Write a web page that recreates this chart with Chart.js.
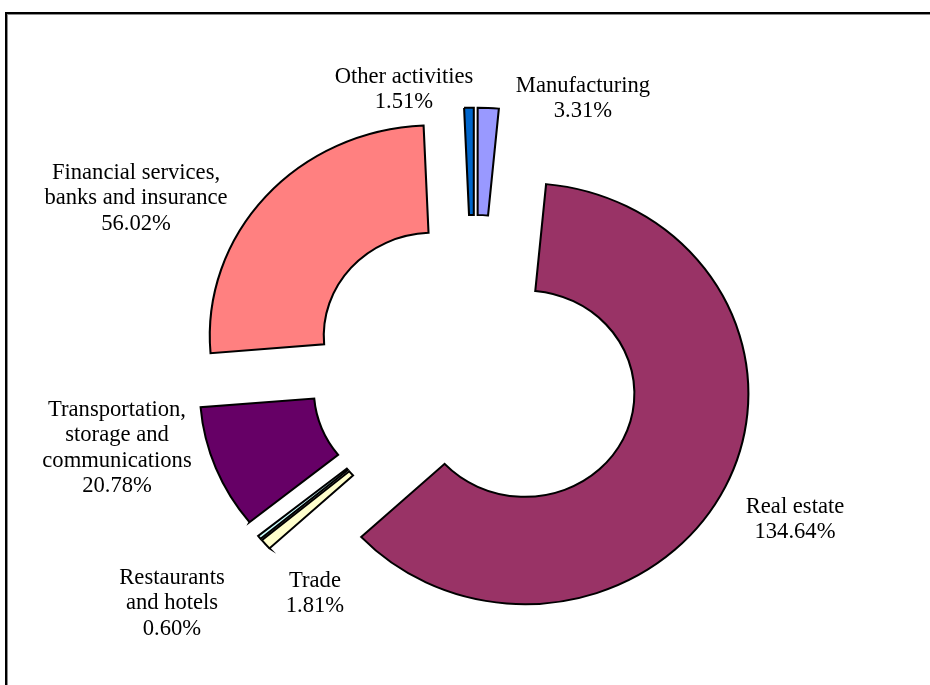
<!DOCTYPE html>
<html>
<head>
<meta charset="utf-8">
<script src="https://cdn.jsdelivr.net/npm/chart.js@4"></script>
<style>
    html, body { margin: 0; padding: 0; background: #fff; }
    #wrap { position: relative; width: 930px; height: 685px; overflow: hidden; }
    #frame {
        position: absolute; left: 5px; top: 12px; width: 1000px; height: 800px;
        border-left: 2px solid #000; border-top: 2px solid #000;
        box-shadow: inset 1px 1px 0 #8c8c8c;
    }
    #chart { position: absolute; left: 0; top: 0; }
</style>
</head>
<body>
<div id="wrap">
    <div id="frame"></div>
    <canvas id="chart" width="930" height="685"></canvas>
</div>
<script>
// Sectores, en el sentido de las agujas del reloj desde las 12
const sectors = ['Manufacturing', 'Real estate', 'Trade', 'Restaurants and hotels',
    'Transportation, storage and communications', 'Financial services, banks and insurance', 'Other activities'];
const shares = [3.31, 134.64, 1.81, 0.60, 20.78, 56.02, 1.51];
// Texto de cada etiqueta, ya partido en líneas (el porcentaje se añade al final)
const labelLines = [
    ['Manufacturing'],
    ['Real estate'],
    ['Trade'],
    ['Restaurants', 'and hotels'],
    ['Transportation,', 'storage and', 'communications'],
    ['Financial services,', 'banks and insurance'],
    ['Other activities']
];
const sectorColors = ['#9999FF', '#993366', '#FFFFCC', '#CCFFFF', '#660066', '#FF8080', '#0066CC'];

// Separación de cada porción respecto al centro (px)
const EXPLODE = 54;
// El anillo sale algo más ancho que alto
const STRETCH_X = 1.03;
const STRETCH_Y = 0.97;
// Ancla de cada etiqueta: centro x y línea base de la primera línea
const labelAnchors = [
    [583, 92], [795, 513], [315, 587], [172, 584], [117, 416], [136, 179], [404, 83]
];
const LINE_STEP = 25.3;

// Desplaza cada porción hacia fuera según su ángulo medio
const explodePlugin = {
    id: 'explode',
    afterDatasetsUpdate(chart) {
        chart.getDatasetMeta(0).data.forEach(arc => {
            const mid = (arc.startAngle + arc.endAngle) / 2;
            arc.x += Math.cos(mid) * EXPLODE;
            arc.y += Math.sin(mid) * EXPLODE;
        });
    },
    beforeDatasetsDraw(chart) {
        const { left, right, top, bottom } = chart.chartArea;
        const cx = (left + right) / 2, cy = (top + bottom) / 2;
        const ctx = chart.ctx;
        ctx.save();
        ctx.translate(cx, cy);
        ctx.scale(STRETCH_X, STRETCH_Y);
        ctx.translate(-cx, -cy);
    },
    afterDatasetsDraw(chart) {
        chart.ctx.restore();
    }
};

const labelPlugin = {
    id: 'sectorLabels',
    afterDatasetsDraw(chart) {
        const ctx = chart.ctx;
        ctx.save();
        ctx.font = '22.6px "Liberation Serif", "Times New Roman", serif';
        ctx.fillStyle = '#000';
        ctx.textAlign = 'center';
        ctx.textBaseline = 'alphabetic';
        shares.forEach((v, i) => {
            const lines = labelLines[i].concat([v.toFixed(2) + '%']);
            const [x, y] = labelAnchors[i];
            lines.forEach((t, k) => ctx.fillText(t, x, y + k * LINE_STEP));
        });
        ctx.restore();
    }
};

new Chart(document.getElementById('chart'), {
    type: 'doughnut',
    data: {
        labels: sectors,
        datasets: [{
            data: shares,
            backgroundColor: sectorColors,
            borderColor: '#000',
            borderWidth: 2,
            borderJoinStyle: 'miter'
        }]
    },
    options: {
        responsive: false,
        animation: false,
        events: [],
        radius: 217,
        cutout: '49%',
        layout: { padding: { left: 20, right: 0, top: 56, bottom: 0 } },
        plugins: {
            legend: { display: false },
            tooltip: { enabled: false }
        }
    },
    plugins: [explodePlugin, labelPlugin]
});
</script>
</body>
</html>
